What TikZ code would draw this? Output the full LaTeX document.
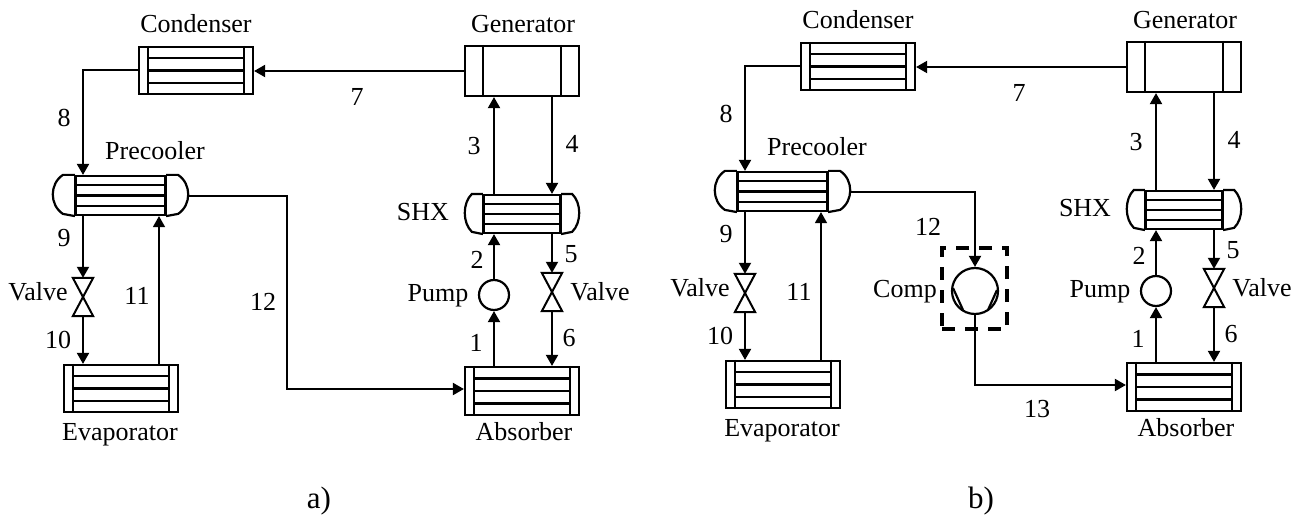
\documentclass[tikz,border=0pt]{standalone}
\usepackage{fontspec}
\setmainfont{Liberation Serif}
\usetikzlibrary{arrows.meta,calc}
\tikzset{
  wire/.style={line width=2pt},
  flow/.style={wire,-{Triangle[length=11pt,width=12pt]}},
  thinflow/.style={line width=1.5pt,-{Triangle[length=11pt,width=12pt]}},
  hxbox/.style={draw,line width=2.2pt,inner sep=0pt,minimum width=#1},
  valvebox/.style={inner sep=0pt,minimum width=20pt,minimum height=38pt},
  pumpnode/.style={circle,draw,line width=2.2pt,inner sep=0pt,minimum size=30pt},
  compnode/.style={circle,draw,line width=2.2pt,inner sep=0pt,minimum size=46pt},
  dashbox/.style={draw,line width=3.6pt,dash pattern=on 13pt off 10pt,inner sep=0pt,minimum width=65pt,minimum height=81pt},
  lab/.style={inner sep=0pt,font=\fontsize{26}{26}\selectfont},
  caplab/.style={inner sep=0pt,font=\fontsize{31}{31}\selectfont}
}
% horizontal tube lines and end bars of an exchanger
\newcommand{\hxinner}[2]{%
  \foreach \f in {0.25,0.5,0.75}
    \draw[line width=2.2pt] ($([xshift=#2]#1.north west)!\f!([xshift=#2]#1.south west)$) -- ($([xshift=-#2]#1.north east)!\f!([xshift=-#2]#1.south east)$);
  \draw[line width=2.2pt] ([xshift=#2]#1.north west) -- ([xshift=#2]#1.south west);
  \draw[line width=2.2pt] ([xshift=-#2]#1.north east) -- ([xshift=-#2]#1.south east);
}
% rounded heads on both sides of a shell exchanger: node, flat length, bulge control, height
\newcommand{\hxcaps}[4]{%
  \draw[line width=2.2pt] (#1.north west) -- ++(-#2,0) .. controls +(-#3,9) and +(-#3,-9) .. ++(0,#4) -- (#1.south west);
  \draw[line width=2.2pt] (#1.north east) -- ++(#2,0) .. controls +(#3,9) and +(#3,-9) .. ++(0,#4) -- (#1.south east);
}
\newcommand{\valvedraw}[1]{%
  \draw[wire,line join=miter] (#1.north west) -- (#1.north east) -- (#1.south west) -- (#1.south east) -- cycle;
}
\newcommand{\panel}[1]{%
  \node[hxbox=114pt,minimum height=47pt] (#1cond) at (196,70.5) {};
  \hxinner{#1cond}{10pt}
  \node[hxbox=114pt,minimum height=50pt] (#1gen) at (522,71) {};
  \draw[line width=2.2pt] ([xshift=19pt]#1gen.north west) -- ([xshift=19pt]#1gen.south west);
  \draw[line width=2.2pt] ([xshift=-19pt]#1gen.north east) -- ([xshift=-19pt]#1gen.south east);
  \node[hxbox=89pt,minimum height=39pt] (#1prec) at (120.5,195.5) {};
  \hxinner{#1prec}{0pt}
  \hxcaps{#1prec}{12}{13.5}{39}
  \coordinate (#1precr) at ([xshift=23pt]#1prec.east);
  \node[hxbox=76pt,minimum height=38pt] (#1shx) at (522,214) {};
  \hxinner{#1shx}{0pt}
  \hxcaps{#1shx}{11}{9.5}{38}
  \node[hxbox=114pt,minimum height=48pt] (#1abs) at (522,391) {};
  \hxinner{#1abs}{10pt}
  \node[hxbox=114pt,minimum height=47pt] (#1evap) at (121,388.5) {};
  \hxinner{#1evap}{10pt}
  \node[pumpnode] (#1pump) at (494,295) {};
  \node[valvebox] (#1valver) at (552,292) {};
  \valvedraw{#1valver}
  \node[valvebox] (#1valvel) at (83,297) {};
  \valvedraw{#1valvel}
  % connectors
  \draw[flow] (#1gen.west) -- (#1gen.west -| #1cond.east);
  \draw[flow] (#1cond.west) -| (#1valvel.north |- #1prec.north);
  \draw[flow] (#1valvel.north |- #1prec.south) -- (#1valvel.north);
  \draw[flow] (#1valvel.south) -- (#1valvel.south |- #1evap.north);
  \draw[thinflow] ([xshift=38pt]#1evap.north) -- ([xshift=38pt]#1evap.north |- #1prec.south);
  \draw[flow] (#1pump.north |- #1shx.north) -- (#1pump.north |- #1gen.south);
  \draw[flow] (#1valver.north |- #1gen.south) -- (#1valver.north |- #1shx.north);
  \draw[flow] (#1pump.north) -- (#1pump.north |- #1shx.south);
  \draw[flow] (#1pump.south |- #1abs.north) -- (#1pump.south);
  \draw[flow] (#1valver.north |- #1shx.south) -- (#1valver.north);
  \draw[flow] (#1valver.south) -- (#1valver.south |- #1abs.north);
  % labels
  \node[lab] (#1tcond) at (196,24) {Condenser};
  \node[lab] (#1tgen) at (523,24) {Generator};
  \node[lab] (#1t7) at (357,97) {7};
  \node[lab] (#1t8) at (64,118) {8};
  \node[lab] (#1tprec) at (155,151) {Precooler};
  \node[lab] (#1t3) at (474,146) {3};
  \node[lab] (#1t4) at (572,144) {4};
  \node[lab] (#1tshx) at (423,212) {SHX};
  \node[lab] (#1t9) at (64,238) {9};
  \node[lab] (#1t2) at (477,260) {2};
  \node[lab] (#1t5) at (571,254) {5};
  \node[lab] (#1tvl) at (38,292) {Valve};
  \node[lab] (#1tpump) at (438,296) {Pump};
  \node[lab] (#1tvr) at (600,292) {Valve};
  \node[lab] (#1t11) at (137,296) {11};
  \node[lab] (#1t10) at (58,340) {10};
  \node[lab] (#1t1) at (476,343) {1};
  \node[lab] (#1t6) at (569,338) {6};
  \node[lab] (#1tevap) at (120,435) {Evaporator};
  \node[lab] (#1tabs) at (524,432) {Absorber};
}
\begin{document}
\begin{tikzpicture}[x=1pt,y=-1pt]
\useasboundingbox (0,0) rectangle (1307,516);
\panel{a}
\draw[flow] (aprecr) -| ([xshift=-177pt,yshift=2pt]aabs.west) -- ([yshift=2pt]aabs.west);
\node[lab] (at12) at (263,302) {12};
\node[caplab] (atcap) at (319,501) {a)};
\begin{scope}[shift={(662,-4)}]
\panel{b}
\node[compnode] (bcomp) at (313,295) {};
\draw[line width=2.2pt] (291,292) -- (301,314);
\draw[line width=2.2pt] (335,294) -- (326,314);
\node[dashbox] (bbox) at (312.5,292.5) {};
\draw[flow] (bprecr) -| (bcomp.north);
\draw[flow] (bcomp.south) |- ([yshift=2pt]babs.west);
\node[lab] (bt12) at (266,231) {12};
\node[lab] (btcomp) at (243,296) {Comp};
\node[lab] (bt13) at (375,413) {13};
\node[caplab] (btcap) at (319,505) {b)};
\end{scope}
\end{tikzpicture}
\end{document}
